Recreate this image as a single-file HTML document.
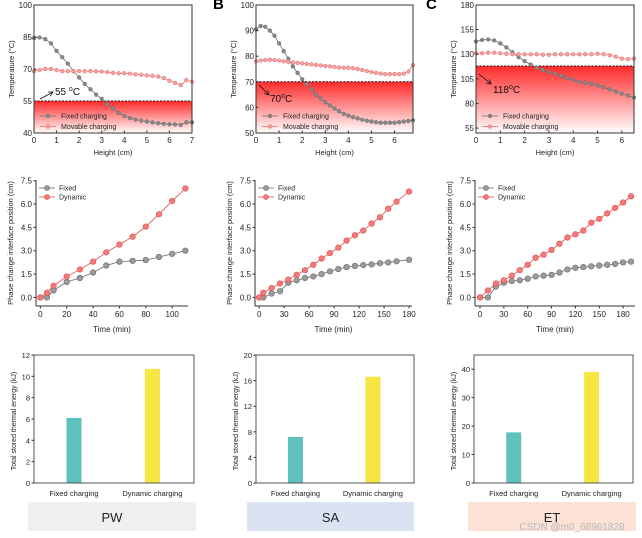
<!DOCTYPE html>
<html><head><meta charset="utf-8"><style>
body{margin:0;background:#fff;}
svg{display:block;font-family:"Liberation Sans",Arial,sans-serif;}
</style></head><body>
<svg id="fig" width="642" height="538" viewBox="0 0 642 538">
<defs>
<linearGradient id="redg" x1="0" y1="0" x2="0" y2="1">
<stop offset="0" stop-color="#ff2a2a"/><stop offset="1" stop-color="#ffffff"/>
</linearGradient>
</defs>
<text x="213" y="9" font-size="15" font-weight="bold">B</text>
<text x="426" y="9" font-size="15" font-weight="bold">C</text>
</svg>
<script>
// ---- Top row data (temperature profiles) ----
const aHeights = [0,0.25,0.5,0.75,1,1.25,1.5,1.75,2,2.25,2.5,2.75,3,3.25,3.5,3.75,4,4.25,4.5,4.75,5,5.25,5.5,5.75,6,6.25,6.5,6.75,7];
const aFixed = [84.5,84.8,84,82,78.5,75.5,72.5,69,66,63,60.5,58,56,53.5,51.5,49.5,48,47,46.3,45.8,45.4,45,44.6,44.3,44.1,44,43.8,45,45];
const aMovable = [69,69.5,70,70,69.5,69,69,69,69,69,69,68.9,68.8,68.5,68.2,68,68,67.8,67.5,67.3,67,66.8,66.5,65.8,64.5,63.5,62.5,64.8,64];
const bHeights = [0,0.2,0.4,0.6,0.8,1,1.2,1.4,1.6,1.8,2,2.2,2.4,2.6,2.8,3,3.2,3.4,3.6,3.8,4,4.2,4.4,4.6,4.8,5,5.2,5.4,5.6,5.8,6,6.2,6.4,6.6,6.8];
const bFixed = [90.5,91.8,91.5,90,88,85,82,79,76,73.5,71,69,67,65,63.5,62,60.8,59.6,58.5,57.5,56.8,56.2,55.7,55.2,54.8,54.5,54.2,54,54,54,54,54.2,54.5,54.7,55];
const bMovable = [78,78.3,78.5,78.6,78.5,78.3,78,77.8,77.6,77.4,77.2,77,76.8,76.6,76.4,76.2,76,75.8,75.6,75.5,75.5,75.3,75,74.6,74.2,73.8,73.5,73.2,73,73,73,73,73.2,74,76.5];
const cHeights = [0,0.25,0.5,0.75,1,1.25,1.5,1.75,2,2.25,2.5,2.75,3,3.25,3.5,3.75,4,4.25,4.5,4.75,5,5.25,5.5,5.75,6,6.25,6.5];
const cFixed = [143,144.5,145,144,141,137,132,127,123,119.5,116.5,114,112,110,108,106,104,102,101,100,98.5,96.5,94.5,92,90,88,86];
const cMovable = [131,131,131.5,131.5,131,130.5,130,130,130,130,130,129.5,129.5,130,130,130,130,130,130,130,130.5,130,129,127.5,125.5,125,125.5];
const aYTicks = [40,55,70,85,100];
const bYTicks = [50,60,70,80,90,100];
const cYTicks = [55,80,105,130,155,180];
const aThreshold = 55, bThreshold = 70, cThreshold = 118;

// ---- Middle row data (interface position) ----
const aTimes = [0,5,10,20,30,40,50,60,70,80,90,100,110];
const aPosFixed = [0,0,0.45,1.0,1.25,1.6,2.05,2.3,2.35,2.4,2.6,2.8,3.0];
const aPosDynamic = [0,0.3,0.75,1.35,1.8,2.3,2.9,3.4,3.9,4.55,5.35,6.2,7.0];
const bTimes = [0,5,15,25,35,45,55,65,75,85,95,105,115,125,135,145,155,165,180];
const bPosFixed = [0,0,0.25,0.4,0.95,1.1,1.25,1.35,1.5,1.68,1.82,1.95,2.02,2.08,2.12,2.2,2.25,2.32,2.42];
const bPosDynamic = [0,0.3,0.6,0.9,1.15,1.45,1.75,2.1,2.5,2.85,3.2,3.65,4.0,4.3,4.75,5.15,5.7,6.15,6.8];
const cTimes = [0,10,20,30,40,50,60,70,80,90,100,110,120,130,140,150,160,170,180,190];
const cPosFixed = [0,0,0.7,0.95,1.05,1.1,1.2,1.35,1.4,1.45,1.6,1.8,1.9,1.95,2.0,2.05,2.1,2.15,2.25,2.3];
const cPosDynamic = [0,0.45,0.9,1.1,1.4,1.75,2.1,2.55,2.75,3.05,3.45,3.85,4.05,4.3,4.8,5.05,5.4,5.75,6.1,6.5];
const posYTicks = [0,1.5,3.0,4.5,6.0,7.5];
const aTimeTicks = [0,20,40,60,80,100];
const bTimeTicks = [0,30,60,90,120,150,180];
const cTimeTicks = [0,30,60,90,120,150,180];

// ---- Bottom row data (stored energy) ----
const barCategories = ["Fixed charging","Dynamic charging"];
const aEnergy = [6.1,10.7];
const bEnergy = [7.2,16.6];
const cEnergy = [17.8,39];
const aEnergyTicks = [0,2,4,6,8,10,12];
const bEnergyTicks = [0,4,8,12,16,20];
const cEnergyTicks = [0,10,20,30,40];
const materials = ["PW","SA","ET"];

const NS="http://www.w3.org/2000/svg";
const svg=document.getElementById('fig');
function mk(tag,attrs,parent){const e=document.createElementNS(NS,tag);for(const k in attrs)e.setAttribute(k,attrs[k]);(parent||svg).appendChild(e);return e;}
function txt(x,y,s,size,anchor,parent,rot){const t=mk('text',{x:x,y:y,'font-size':size,'text-anchor':anchor||'middle',fill:'#222'},parent);if(rot)t.setAttribute('transform','rotate(-90 '+x+' '+y+')');t.textContent=s;return t;}
function lin(d0,d1,r0,r1){return v=>r0+(v-d0)*(r1-r0)/(d1-d0);}

function tempPanel(id,box,xmax,xticks,ymin,ymax,yticks,xs,fixed,mov,thr,ann,annPos){
  const g=mk('g',{});
  
  
  const X=lin(0,xmax,box.x0,box.x1),Y=lin(ymin,ymax,box.y1,box.y0);
  const ty=Y(thr);
  const fill=mk('rect',{x:box.x0,y:ty,width:box.x1-box.x0,height:box.y1-ty,fill:'url(#redg)'},g);
  
  
  const dl=mk('line',{x1:box.x0,x2:box.x1,y1:ty,y2:ty,stroke:'#111','stroke-dasharray':'2,1.5','stroke-width':1},g);
  
  
  [[fixed,'#8a8a8a','#6e6e6e','fixed-charging-series'],[mov,'#f6a3a3','#e57373','movable-charging-series']].forEach(s=>{
    const sg=mk('g',{},g);
    
    
    mk('polyline',{points:xs.map((x,i)=>X(x)+','+Y(s[0][i])).join(' '),fill:'none',stroke:s[2],'stroke-width':0.8},sg);
    xs.forEach((x,i)=>{const c=mk('circle',{cx:X(x),cy:Y(s[0][i]),r:1.8,fill:s[1],stroke:s[2],'stroke-width':0.6},sg);
      
      });
  });
  const fr=mk('rect',{x:box.x0,y:box.y0,width:box.x1-box.x0,height:box.y1-box.y0,fill:'none',stroke:'#333','stroke-width':1},g);
  
  
  yticks.forEach(v=>{mk('line',{x1:box.x0,x2:box.x0+2.5,y1:Y(v),y2:Y(v),stroke:'#333'},g);txt(box.x0-2,Y(v)+3,String(v),8,'end',g);});
  xticks.forEach(v=>{mk('line',{x1:X(v),x2:X(v),y1:box.y1,y2:box.y1-2.5,stroke:'#333'},g);txt(X(v),box.y1+10,String(v),8,'middle',g);});
  const xt=txt((box.x0+box.x1)/2,box.y1+22,'Height (cm)',7.5,'middle',g);
  
  
  const yt=txt(box.x0-20,(box.y0+box.y1)/2,'Temperature (°C)',7.5,'middle',g,true);
  
  
  // annotation
  const a=annPos;
  mk('line',{x1:a.ax0,y1:a.ay0,x2:a.ax1,y2:a.ay1,stroke:'#111','stroke-width':0.8},g);
  const ang=Math.atan2(a.ay1-a.ay0,a.ax1-a.ax0);
  const hx=a.ax1,hy=a.ay1;
  mk('polyline',{points:(hx-5*Math.cos(ang-0.5))+','+(hy-5*Math.sin(ang-0.5))+' '+hx+','+hy+' '+(hx-5*Math.cos(ang+0.5))+','+(hy-5*Math.sin(ang+0.5)),fill:'none',stroke:'#111','stroke-width':0.8},g);
  const at=mk('text',{x:a.tx,y:a.ty,'font-size':10,fill:'#111'},g);
  
  
  at.innerHTML=ann[0]+'<tspan font-size="7" dy="-4">o</tspan><tspan dy="4">C</tspan>';
  // legend
  [['Fixed charging','#8a8a8a','#6e6e6e'],['Movable charging','#f6a3a3','#e57373']].forEach((l,i)=>{
    const ly=box.y1-17+i*10.5,lx=box.x0+6;
    const lg=mk('g',{},g);
    
    
    mk('line',{x1:lx,x2:lx+16,y1:ly,y2:ly,stroke:l[2],'stroke-width':0.8},lg);
    mk('circle',{cx:lx+8,cy:ly,r:1.8,fill:l[1],stroke:l[2],'stroke-width':0.6},lg);
    txt(lx+21,ly+2.5,l[0],7,'start',lg);
  });
}

tempPanel('a',{x0:34,x1:192,y0:5,y1:133},7,[0,1,2,3,4,5,6,7],40,100,aYTicks,aHeights,aFixed,aMovable,aThreshold,['55 '],{ax0:40,ay0:99,ax1:53,ay1:92,tx:55,ty:95});
tempPanel('b',{x0:256,x1:413,y0:5,y1:133},6.8,[0,1,2,3,4,5,6],50,100,bYTicks,bHeights,bFixed,bMovable,bThreshold,['70'],{ax0:259,ay0:85,ax1:269,ay1:95,tx:270,ty:102});
tempPanel('c',{x0:476,x1:634,y0:5,y1:133},6.5,[0,1,2,3,4,5,6],50,180,cYTicks,cHeights,cFixed,cMovable,cThreshold,['118'],{ax0:479,ay0:74,ax1:491,ay1:84,tx:493,ty:93});

function posPanel(id,ax,xmin,xmax,xticks,ts,fixed,dyn){
  const g=mk('g',{});
  
  
  const X=lin(xmin,xmax,ax.x0,ax.x1),Y=lin(-0.55,7.5,306,180.7);
  mk('line',{x1:ax.x0,x2:ax.x0,y1:180,y2:306,stroke:'#333'},g);
  mk('line',{x1:ax.x0,x2:ax.x1,y1:306,y2:306,stroke:'#333'},g);
  posYTicks.forEach(v=>{mk('line',{x1:ax.x0,x2:ax.x0-2.5,y1:Y(v),y2:Y(v),stroke:'#333'},g);txt(ax.x0-4,Y(v)+3,v.toFixed(1),8,'end',g);});
  xticks.forEach(v=>{mk('line',{x1:X(v),x2:X(v),y1:306,y2:308.5,stroke:'#333'},g);txt(X(v),317,String(v),8,'middle',g);});
  const xt=txt((ax.x0+ax.x1)/2,332,'Time (min)',8,'middle',g);
  
  
  const yt=txt(ax.x0-23,243,'Phase change interface position (cm)',7.5,'middle',g,true);
  
  
  [[fixed,'#9a9a9a','#6a6a6a','fixed-series'],[dyn,'#f47a7a','#e04c4c','dynamic-series']].forEach(s=>{
    const sg=mk('g',{},g);
    
    
    mk('polyline',{points:ts.map((t,i)=>X(t)+','+Y(s[0][i])).join(' '),fill:'none',stroke:s[2],'stroke-width':0.8},sg);
    ts.forEach((t,i)=>{const c=mk('circle',{cx:X(t),cy:Y(s[0][i]),r:2.8,fill:s[1],stroke:s[2],'stroke-width':0.6},sg);
      
      });
  });
  [['Fixed','#9a9a9a','#6a6a6a'],['Dynamic','#f47a7a','#e04c4c']].forEach((l,i)=>{
    const ly=188+i*9,lx=ax.x0+3;
    const lg=mk('g',{},g);
    
    
    mk('line',{x1:lx,x2:lx+16,y1:ly,y2:ly,stroke:l[2],'stroke-width':0.8},lg);
    mk('circle',{cx:lx+8,cy:ly,r:2.5,fill:l[1],stroke:l[2],'stroke-width':0.6},lg);
    txt(lx+20,ly+2.5,l[0],7,'start',lg);
  });
}
posPanel('a',{x0:36,x1:188},-3.3,112,aTimeTicks,aTimes,aPosFixed,aPosDynamic);
posPanel('b',{x0:255,x1:412},-5,183.5,bTimeTicks,bTimes,bPosFixed,bPosDynamic);
posPanel('c',{x0:475,x1:635},-6.3,195,cTimeTicks,cTimes,cPosFixed,cPosDynamic);

function barPanel(id,box,ymax,ticks,vals,lab,bx,bgColor){
  const g=mk('g',{});
  
  
  const Y=lin(0,ymax,box.y1,box.y0);
  const cx=[box.x0+(box.x1-box.x0)*0.25,box.x0+(box.x1-box.x0)*0.74];
  const cols=['#5fc1be','#f5e642'];
  vals.forEach((v,i)=>{const r=mk('rect',{x:cx[i]-7.5,y:Y(v),width:15,height:box.y1-Y(v),fill:cols[i]},g);
    
    
    txt(cx[i],box.y1+13,barCategories[i],7.5,'middle',g);});
  mk('rect',{x:box.x0,y:box.y0,width:box.x1-box.x0,height:box.y1-box.y0,fill:'none',stroke:'#555','stroke-width':1},g);
  ticks.forEach(v=>{mk('line',{x1:box.x0,x2:box.x0-2.5,y1:Y(v),y2:Y(v),stroke:'#333'},g);txt(box.x0-4,Y(v)+3,String(v),7.5,'end',g);});
  const yt=txt(box.x0-18,box.y1-62,'Total stored thermal energy (kJ)',7,'middle',g,true);
  
  
  const lb=mk('rect',{x:bx.x0,y:502,width:bx.x1-bx.x0,height:29,fill:bgColor},g);
  
  
  const lt=txt((bx.x0+bx.x1)/2,522,lab,13,'middle',g);
  
  
}
barPanel('a',{x0:34,x1:194,y0:355,y1:483},12,aEnergyTicks,aEnergy,materials[0],{x0:28,x1:196},'#efefef');
barPanel('b',{x0:256,x1:414,y0:355,y1:483},20,bEnergyTicks,bEnergy,materials[1],{x0:247,x1:414},'#dbe3f3');
barPanel('c',{x0:474,x1:633,y0:355,y1:483},45,cEnergyTicks,cEnergy,materials[2],{x0:468,x1:636},'#fbe2d5');
const wm=txt(572,530,'CSDN @m0_68961828',10,'middle');
wm.setAttribute('fill','#b8b8b8');


</script>
</body></html>
